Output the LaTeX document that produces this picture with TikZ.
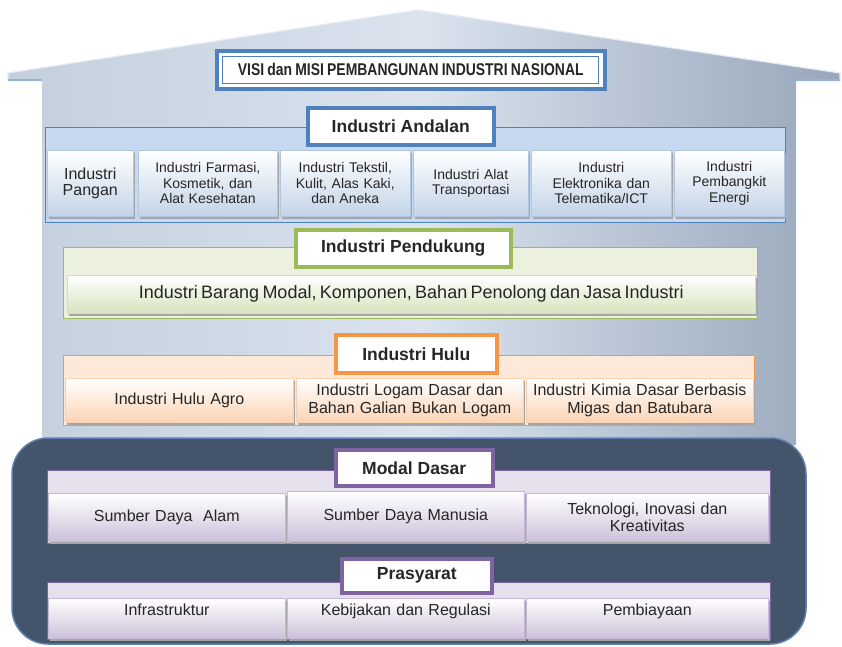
\documentclass[tikz,border=0pt]{standalone}
\usepackage{fontspec}
\setmainfont{Liberation Sans}
\newfontfamily\narrowfont[FakeStretch=0.82,WordSpace=0.82]{Liberation Sans}
\definecolor{wallL}{HTML}{C4CFDD}
\definecolor{wallM}{HTML}{DAE3EE}
\definecolor{wallR}{HTML}{97A6BA}
\definecolor{baseC}{HTML}{44546A}
\definecolor{baseB}{HTML}{5F7FB0}
\definecolor{blueB}{HTML}{4F81BD}
\definecolor{blueF}{HTML}{C6D9F1}
\definecolor{blueS}{HTML}{C3D3E8}
\definecolor{greenB}{HTML}{9BBB59}
\definecolor{greenF}{HTML}{EBF1DE}
\definecolor{greenS}{HTML}{D7E4BD}
\definecolor{orangeB}{HTML}{F79646}
\definecolor{orangeF}{HTML}{FDE9D9}
\definecolor{orangeS}{HTML}{FBD4B4}
\definecolor{purpleB}{HTML}{8064A2}
\definecolor{purpleF}{HTML}{E5E0EC}
\definecolor{purpleS}{HTML}{CCC1DA}
\definecolor{txt}{HTML}{262626}
\tikzset{
  band/.style={draw=#1B, fill=#1F, line width=1.2pt, rectangle, inner sep=0pt, anchor=north west},
  titlebox/.style={draw=#1B, fill=white, line width=3.5pt, rectangle, inner sep=0pt, anchor=north west, text=txt, font=\bfseries\fontsize{17.5}{20}\selectfont},
  subbox/.style={draw=#1B!45, line width=0.6pt, top color=white, bottom color=#1S, rectangle, inner sep=2pt, anchor=north west, align=center, text=txt},
  shadowbox/.style={fill=black!35, rectangle, inner sep=0pt, anchor=north west}
}
\newcommand{\subbx}[8][]{% options, color, name, x, y, w, h, text
  \node[shadowbox, minimum width=#6pt, minimum height=#7pt] at (#4+1.5,#5+2.5) {};
  \node[subbox=#2, minimum width=#6pt, minimum height=#7pt, text width=\dimexpr#6pt-8pt\relax, #1] (#3) at (#4,#5) {#8};
}
\begin{document}
\begin{tikzpicture}[x=1pt,y=-1pt]
\useasboundingbox (0,0) rectangle (842,646);
% house
\shade[left color=wallL, right color=wallR, middle color=wallM]
  (42,445) -- (42,81) -- (8,81) -- (8,73) -- (418,10) -- (840,73) -- (840,81) -- (796,81) -- (796,445) -- cycle;
\draw[white!85!blueB, line width=1.2pt, line join=round] (8,81) -- (8,73) -- (418,10) -- (840,73) -- (840,81);
\draw[blueB!60, line width=1.5pt] (8,80) -- (42,80) (796,80) -- (840,80);
% VISI
\node[draw=blueB, line width=3.5pt, fill=white, minimum width=388pt, minimum height=38pt, anchor=north west] (visi) at (215,49) {};
\node[draw=blueB, line width=0.8pt, minimum width=376pt, minimum height=27pt, text=txt, font=\narrowfont\bfseries\fontsize{17}{19}\selectfont] (visit) at (visi.center) {VISI dan MISI PEMBANGUNAN INDUSTRI NASIONAL};
% Andalan
\node[band=blue, minimum width=740pt, minimum height=95pt] (andband) at (45,127) {};
\node[titlebox=blue, minimum width=186pt, minimum height=37pt] (andtitle) at (306,106) {Industri Andalan};
\begin{scope}[font=\fontsize{14}{15.5}\selectfont]
\subbx{blue}{a1}{47}{150}{86}{66}{\fontsize{16}{18}\selectfont Industri\\Pangan}
\subbx{blue}{a2}{138}{150}{139}{66}{Industri Farmasi,\\Kosmetik, dan\\Alat Kesehatan}
\subbx{blue}{a3}{280}{150}{130}{66}{Industri Tekstil,\\Kulit, Alas Kaki,\\dan Aneka}
\subbx{blue}{a4}{413}{150}{115}{66}{Industri Alat\\Transportasi}
\subbx{blue}{a5}{531}{150}{140}{66}{Industri\\Elektronika dan\\Telematika/ICT}
\subbx{blue}{a6}{674}{150}{110}{66}{Industri\\Pembangkit\\Energi}
\end{scope}
% Pendukung
\node[band=green, minimum width=694pt, minimum height=71pt] (pendband) at (63,247) {};
\node[titlebox=green, minimum width=215pt, minimum height=37pt] (pendtitle) at (294,228) {Industri Pendukung};
\subbx{green}{p1}{67}{275}{688}{38}{\fontsize{18}{20}\selectfont Industri Barang Modal, Komponen, Bahan Penolong dan Jasa Industri}
% Hulu
\node[band=orange, minimum width=691pt, minimum height=70pt] (huluband) at (63,355) {};
\node[titlebox=orange, minimum width=161pt, minimum height=38pt] (hulutitle) at (334,333) {Industri Hulu};
\begin{scope}[font=\fontsize{16}{17.5}\selectfont]
\subbx{orange}{h1}{65}{378}{228}{44}{Industri Hulu Agro}
\subbx{orange}{h2}{296}{378}{227}{44}{Industri Logam Dasar dan\\Bahan Galian Bukan Logam}
\subbx{orange}{h3}{526}{378}{227}{44}{Industri Kimia Dasar Berbasis\\Migas dan Batubara}
\end{scope}
% Base
\draw[fill=baseC, draw=baseB, line width=1.5pt, rounded corners=36pt] (12,438) rectangle (806,644);
% Modal Dasar
\node[band=purple, minimum width=723pt, minimum height=73pt] (modband) at (47,470) {};
\node[titlebox=purple, minimum width=157pt, minimum height=36pt] (modtitle) at (334,448) {Modal Dasar};
\begin{scope}[font=\fontsize{16}{16.5}\selectfont]
\subbx{purple}{m1}{48}{493}{237}{48}{Sumber Daya\ \ Alam}
\subbx{purple}{m2}{287}{491}{237}{50}{Sumber Daya Manusia}
\subbx{purple}{m3}{526}{493}{242}{48}{Teknologi, Inovasi dan\\Kreativitas}
\end{scope}
% Prasyarat
\node[band=purple, minimum width=723pt, minimum height=57pt] (praband) at (47,582) {};
\node[titlebox=purple, minimum width=150pt, minimum height=34pt] (pratitle) at (340,557) {Prasyarat};
\begin{scope}[font=\fontsize{16}{17.5}\selectfont]
\subbx[text depth=17pt]{purple}{r1}{48}{598}{237}{40}{Infrastruktur}
\subbx[text depth=17pt]{purple}{r2}{287}{598}{237}{40}{Kebijakan dan Regulasi}
\subbx[text depth=17pt]{purple}{r3}{526}{598}{242}{40}{Pembiayaan}
\end{scope}
\end{tikzpicture}
\end{document}
